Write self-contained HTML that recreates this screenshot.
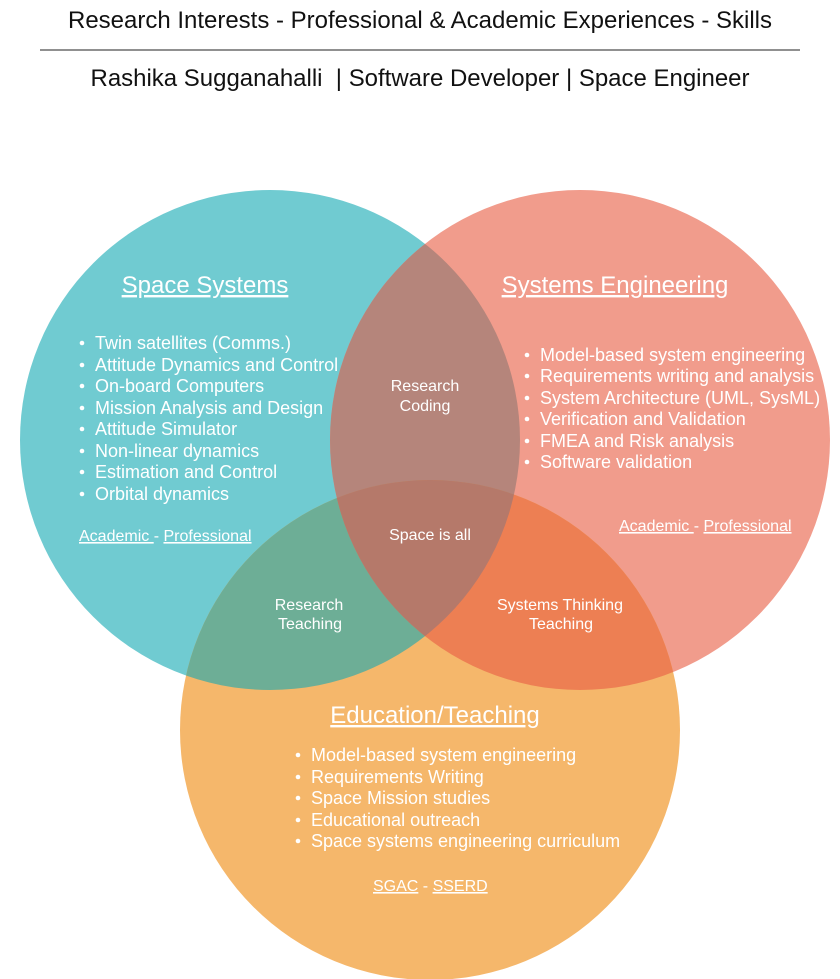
<!DOCTYPE html>
<html><head><meta charset="utf-8"><style>
html,body{margin:0;padding:0;background:#fff;width:840px;height:979px;overflow:hidden}
svg{display:block;font-family:"Liberation Sans",Arial,sans-serif}
</style></head><body>
<svg width="840" height="979" viewBox="0 0 840 979">
<defs>
<clipPath id="cT"><circle cx="270" cy="440" r="250"/></clipPath>
<clipPath id="cP"><circle cx="580" cy="440" r="250"/></clipPath>
<clipPath id="cO"><circle cx="430" cy="730" r="250"/></clipPath>
</defs>
<text x="420" y="28" font-size="24" text-anchor="middle" fill="#111" textLength="704" lengthAdjust="spacingAndGlyphs">Research Interests - Professional &amp; Academic Experiences - Skills</text>
<line x1="40" y1="50" x2="800" y2="50" stroke="#222" stroke-width="1"/>
<text x="420" y="86" font-size="24" text-anchor="middle" fill="#111" textLength="659" lengthAdjust="spacingAndGlyphs">Rashika Sugganahalli&#160; | Software Developer | Space Engineer</text>

<circle cx="270" cy="440" r="250" fill="#70cbd1"/>
<circle cx="580" cy="440" r="250" fill="#f19c8c"/>
<circle cx="430" cy="730" r="250" fill="#f5b76b"/>
<g clip-path="url(#cT)"><circle cx="580" cy="440" r="250" fill="#b5857b"/><circle cx="430" cy="730" r="250" fill="#6dae96"/></g>
<g clip-path="url(#cP)"><circle cx="430" cy="730" r="250" fill="#ed7f53"/></g>
<g clip-path="url(#cT)"><g clip-path="url(#cP)"><circle cx="430" cy="730" r="250" fill="#b5796a"/></g></g>

<g fill="#fff">
<text x="205" y="293" font-size="24" text-anchor="middle" text-decoration="underline">Space Systems</text>
<text x="615" y="293" font-size="24" text-anchor="middle" text-decoration="underline">Systems Engineering</text>
<text x="435" y="723" font-size="24" text-anchor="middle" text-decoration="underline">Education/Teaching</text>

<g font-size="18">
<text x="95" y="349">Twin satellites (Comms.)</text>
<text x="95" y="371">Attitude Dynamics and Control</text>
<text x="95" y="392">On-board Computers</text>
<text x="95" y="414">Mission Analysis and Design</text>
<text x="95" y="435">Attitude Simulator</text>
<text x="95" y="457">Non-linear dynamics</text>
<text x="95" y="478">Estimation and Control</text>
<text x="95" y="500">Orbital dynamics</text>

<text x="540" y="361">Model-based system engineering</text>
<text x="540" y="382">Requirements writing and analysis</text>
<text x="540" y="404">System Architecture (UML, SysML)</text>
<text x="540" y="425">Verification and Validation</text>
<text x="540" y="447">FMEA and Risk analysis</text>
<text x="540" y="468">Software validation</text>

<text x="311" y="761">Model-based system engineering</text>
<text x="311" y="783">Requirements Writing</text>
<text x="311" y="804">Space Mission studies</text>
<text x="311" y="826">Educational outreach</text>
<text x="311" y="847">Space systems engineering curriculum</text>
</g>
<g>
<circle cx="82" cy="343" r="2.3"/><circle cx="82" cy="365" r="2.3"/><circle cx="82" cy="386" r="2.3"/><circle cx="82" cy="408" r="2.3"/><circle cx="82" cy="429" r="2.3"/><circle cx="82" cy="451" r="2.3"/><circle cx="82" cy="472" r="2.3"/><circle cx="82" cy="494" r="2.3"/>
<circle cx="527" cy="355" r="2.3"/><circle cx="527" cy="376" r="2.3"/><circle cx="527" cy="398" r="2.3"/><circle cx="527" cy="419" r="2.3"/><circle cx="527" cy="441" r="2.3"/><circle cx="527" cy="462" r="2.3"/>
<circle cx="298" cy="755" r="2.3"/><circle cx="298" cy="777" r="2.3"/><circle cx="298" cy="798" r="2.3"/><circle cx="298" cy="820" r="2.3"/><circle cx="298" cy="841" r="2.3"/>
</g>
<g font-size="16">
<text x="79" y="541"><tspan text-decoration="underline">Academic </tspan>- <tspan text-decoration="underline">Professional</tspan></text>
<text x="619" y="531"><tspan text-decoration="underline">Academic </tspan>- <tspan text-decoration="underline">Professional</tspan></text>
<text x="373" y="891"><tspan text-decoration="underline">SGAC</tspan> - <tspan text-decoration="underline">SSERD</tspan></text>
</g>
<g font-size="16" text-anchor="middle">
<text x="425" y="391">Research</text>
<text x="425" y="411">Coding</text>
<text x="430" y="540">Space is all</text>
<text x="309" y="610">Research</text>
<text x="310" y="629">Teaching</text>
<text x="560" y="610">Systems Thinking</text>
<text x="561" y="629">Teaching</text>
</g>
</g>
</svg>
</body></html>
